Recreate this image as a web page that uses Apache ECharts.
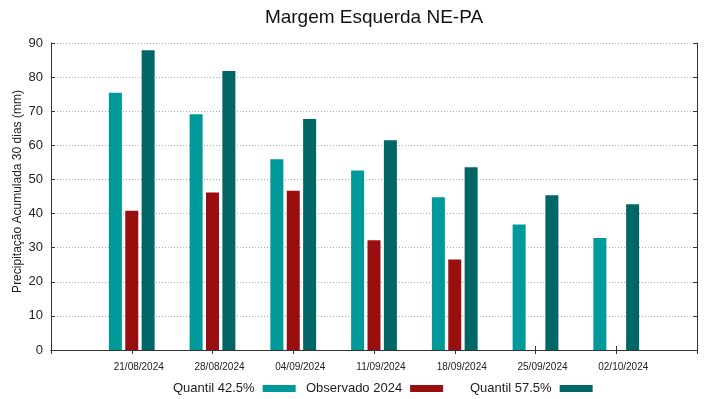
<!DOCTYPE html>
<html>
<head>
<meta charset="utf-8">
<script src="https://cdn.jsdelivr.net/npm/echarts@6/dist/echarts.min.js"></script>
<style>
  html, body { margin: 0; padding: 0; background: #fff; }
  #chart { width: 719px; height: 399px; }
</style>
</head>
<body>
<div id="chart"></div>
<script>
// datas das semanas
const categories = ['21/08/2024', '28/08/2024', '04/09/2024', '11/09/2024', '18/09/2024', '25/09/2024', '02/10/2024']
const quantil425 = [75.4, 69.1, 55.9, 52.6, 44.8, 36.8, 32.8]
const observado = [40.8, 46.2, 46.7, 32.2, 26.5, null, null]
const quantil575 = [87.9, 81.8, 67.7, 61.5, 53.6, 45.4, 42.7]
const yTicks = [0, 10, 20, 30, 40, 50, 60, 70, 80, 90]

const font = 'Liberation Sans, Arial, sans-serif'
const borderColor = '#333'

// uma posicao vazia em cada ponta, como no gnuplot
const axisData = [''].concat(categories, [''])
const pad = (arr) => [null].concat(arr, [null])

const chartDom = document.getElementById('chart')
const myChart = echarts.init(chartDom)

const legendBase = {
  orient: 'horizontal',
  top: 382,
  padding: 0,
  align: 'right',
  icon: 'rect',
  itemWidth: 33,
  itemHeight: 7,
  selectedMode: false,
  textStyle: { fontFamily: font, fontSize: 13, color: '#222', padding: [0, 3, 0, 0] },
}

const option = {
  animation: false,
  title: {
    text: 'Margem Esquerda NE-PA',
    left: 369,
    textAlign: 'center',
    top: 3,
    textStyle: { fontFamily: font, fontSize: 19, fontWeight: 'normal', color: '#111' },
  },
  legend: [
    Object.assign({}, legendBase, { left: 173, data: ['Quantil 42.5%'] }),
    Object.assign({}, legendBase, { left: 306, data: ['Observado 2024'] }),
    Object.assign({}, legendBase, { left: 470, data: ['Quantil 57.5%'] }),
  ],
  grid: {
    left: 51,
    right: 22,
    top: 43,
    bottom: 49,
    containLabel: false,
    outerBoundsMode: 'none',
  },
  xAxis: [
    {
      type: 'category',
      data: axisData,
      boundaryGap: false,
      axisLine: { lineStyle: { color: borderColor, width: 1 } },
      axisTick: { inside: true, length: 4, lineStyle: { color: borderColor } },
      axisLabel: {
        fontFamily: font,
        fontSize: 10,
        color: '#222',
        margin: 12,
        padding: [0, 0, 0, 14],
        interval: 0,
      },
      splitLine: { show: false },
    },
    {
      type: 'category',
      position: 'top',
      data: axisData,
      boundaryGap: false,
      axisLine: { lineStyle: { color: borderColor, width: 1 } },
      axisTick: { inside: true, length: 4, lineStyle: { color: borderColor } },
      axisLabel: { show: false },
      splitLine: { show: false },
    },
  ],
  yAxis: [
    {
      type: 'value',
      min: yTicks[0],
      max: yTicks[yTicks.length - 1],
      interval: 10,
      name: 'Precipitação Acumulada 30 dias (mm)',
      nameLocation: 'middle',
      nameMoveOverlap: false,
      nameGap: 27,
      nameTextStyle: { fontFamily: font, fontSize: 12, color: '#222', padding: [0, 0, 0, 10] },
      axisLine: { show: true, lineStyle: { color: borderColor, width: 1 } },
      axisTick: { show: true, inside: true, length: 4, lineStyle: { color: borderColor } },
      axisLabel: { fontFamily: font, fontSize: 13, color: '#222', margin: 8 },
      splitLine: {
        show: true,
        lineStyle: { color: '#aaa', type: [1, 2], width: 1 },
      },
    },
    {
      type: 'value',
      position: 'right',
      min: yTicks[0],
      max: yTicks[yTicks.length - 1],
      interval: 10,
      axisLine: { show: true, lineStyle: { color: borderColor, width: 1 } },
      axisTick: { show: true, inside: true, length: 4, lineStyle: { color: borderColor } },
      axisLabel: { show: false },
      splitLine: { show: false },
    },
  ],
  series: [
    {
      name: 'Quantil 42.5%',
      type: 'bar',
      data: pad(quantil425),
      barWidth: 13,
      barGap: '26%',
      itemStyle: { color: '#009999' },
    },
    {
      name: 'Observado 2024',
      type: 'bar',
      data: pad(observado),
      barWidth: 13,
      barGap: '26%',
      itemStyle: { color: '#990f0f' },
    },
    {
      name: 'Quantil 57.5%',
      type: 'bar',
      data: pad(quantil575),
      barWidth: 13,
      barGap: '26%',
      itemStyle: { color: '#006666' },
    },
  ],
}

option && myChart.setOption(option)
window.onresize = () => {
  myChart.resize()
}
</script>
</body>
</html>
